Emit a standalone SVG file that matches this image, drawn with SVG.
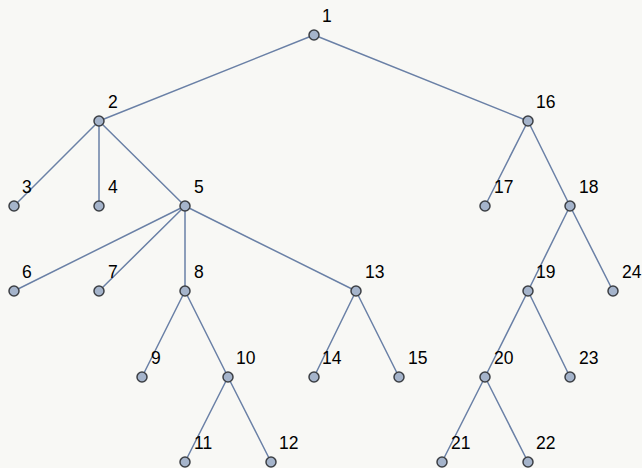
<svg xmlns="http://www.w3.org/2000/svg" width="642" height="468" viewBox="0 0 642 468">
<style>
.e{stroke:#6a80a6;stroke-width:1.5;fill:none}
.n circle{fill:#a5b4cb;stroke:#3c3f44;stroke-width:1.5}
.n text{font-family:"Liberation Sans",Arial,sans-serif;font-size:17.5px;fill:#000}
</style>
<rect width="642" height="468" fill="#f8f8f5"/>
<g id="edges">
<path class="e" d="M314,35L99,121M314,35L528,121M99,121L14,206M99,121L99,206M99,121L185,206M185,206L14,291M185,206L99,291M185,206L185,291M185,206L356,291M185,291L142,377M185,291L228,377M228,377L185,462M228,377L271,462M356,291L314,377M356,291L399,377M528,121L485,206M528,121L570,206M570,206L528,291M570,206L613,291M528,291L485,377M528,291L570,377M485,377L442,462M485,377L528,462"/>
</g>
<g id="n1" class="n"><circle cx="314" cy="35" r="5"/><text x="322" y="22">1</text></g>
<g id="n2" class="n"><circle cx="99" cy="121" r="5"/><text x="108" y="108">2</text></g>
<g id="n3" class="n"><circle cx="14" cy="206" r="5"/><text x="22" y="193">3</text></g>
<g id="n4" class="n"><circle cx="99" cy="206" r="5"/><text x="108" y="193">4</text></g>
<g id="n5" class="n"><circle cx="185" cy="206" r="5"/><text x="194" y="193">5</text></g>
<g id="n6" class="n"><circle cx="14" cy="291" r="5"/><text x="22" y="278">6</text></g>
<g id="n7" class="n"><circle cx="99" cy="291" r="5"/><text x="108" y="278">7</text></g>
<g id="n8" class="n"><circle cx="185" cy="291" r="5"/><text x="194" y="278">8</text></g>
<g id="n9" class="n"><circle cx="142" cy="377" r="5"/><text x="151" y="364">9</text></g>
<g id="n10" class="n"><circle cx="228" cy="377" r="5"/><text x="236" y="364">10</text></g>
<g id="n11" class="n"><circle cx="185" cy="462" r="5"/><text x="194" y="449">11</text></g>
<g id="n12" class="n"><circle cx="271" cy="462" r="5"/><text x="279" y="449">12</text></g>
<g id="n13" class="n"><circle cx="356" cy="291" r="5"/><text x="365" y="278">13</text></g>
<g id="n14" class="n"><circle cx="314" cy="377" r="5"/><text x="322" y="364">14</text></g>
<g id="n15" class="n"><circle cx="399" cy="377" r="5"/><text x="408" y="364">15</text></g>
<g id="n16" class="n"><circle cx="528" cy="121" r="5"/><text x="536" y="108">16</text></g>
<g id="n17" class="n"><circle cx="485" cy="206" r="5"/><text x="494" y="193">17</text></g>
<g id="n18" class="n"><circle cx="570" cy="206" r="5"/><text x="579" y="193">18</text></g>
<g id="n19" class="n"><circle cx="528" cy="291" r="5"/><text x="536" y="278">19</text></g>
<g id="n20" class="n"><circle cx="485" cy="377" r="5"/><text x="494" y="364">20</text></g>
<g id="n21" class="n"><circle cx="442" cy="462" r="5"/><text x="451" y="449">21</text></g>
<g id="n22" class="n"><circle cx="528" cy="462" r="5"/><text x="536" y="449">22</text></g>
<g id="n23" class="n"><circle cx="570" cy="377" r="5"/><text x="579" y="364">23</text></g>
<g id="n24" class="n"><circle cx="613" cy="291" r="5"/><text x="622" y="278">24</text></g>
</svg>
